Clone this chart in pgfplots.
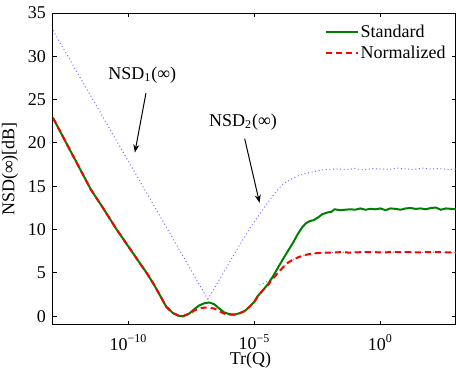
\documentclass[border=0pt]{standalone}
\usepackage{fontspec}
\setmainfont{Liberation Serif}
\usepackage{pgfplots}
\pgfplotsset{compat=1.18}
\usetikzlibrary{arrows.meta}
\definecolor{mgreen}{rgb}{0,0.5,0}
\definecolor{mblue}{rgb}{0.45,0.45,1}
\begin{document}
\begin{tikzpicture}
\begin{axis}[
  name=ax,
  scale only axis,
  width=201.5pt, height=156pt,
  xmode=log, log basis x=10,
  xmin=1e-13, xmax=1e3,
  ymin=-1, ymax=35,
  xtick={1e-10,1e-5,1},
  xticklabels={10\textsuperscript{−10},10\textsuperscript{−5},10\textsuperscript{0}},
  ytick={0,5,...,35},
  xminorticks=false, yminorticks=false,
  tick align=inside,
  major tick length=2pt,
  axis line style={line width=0.5pt},
  every tick/.style={black,line width=0.5pt},
  /pgf/number format/assume math mode=true,
  tick label style={font=\fontsize{9}{11}\selectfont},
  xticklabel style={inner sep=0pt, yshift=-4.5pt},
  label style={font=\fontsize{9}{11}\selectfont},
  xlabel={Tr(Q)},
  ylabel={NSD(∞)[dB]},
  xlabel style={at={(axis description cs:0.5,0)}, anchor=north, yshift=-13.2pt, xshift=-2pt, inner sep=0pt},
  ylabel style={yshift=-2pt},
  legend style={draw=none, fill=none, at={(1,1)}, anchor=north east, xshift=-4pt, yshift=-4.5pt,
    font=\fontsize{9}{10}\selectfont, row sep=0.5pt, inner sep=0pt,
    nodes={inner sep=1pt, text height=6.5pt, text depth=1.5pt}},
  legend cell align=left,
  legend image code/.code={\draw[#1] (0pt,0pt) -- (16pt,0pt);},
]
% NSD1 dotted
\addplot[mblue, line width=0.5pt, dash pattern=on 0.5pt off 1.3pt, forget plot] coordinates {
(1e-13,33.0) (1.413e-7,1.95)
};
% NSD2 dotted
\addplot[mblue, line width=0.5pt, dash pattern=on 0.5pt off 1.3pt, forget plot] coordinates {
(1.413e-7,1.95) (5.01e-7,4.7) (1.82e-6,7.5) (6.31e-6,10.1) (2.24e-5,12.4) (6.31e-5,14.2)
(1.38e-4,15.3) (3.16e-4,15.9) (6.31e-4,16.3) (1.585e-3,16.6) (5.01e-3,16.9) (1.82e-2,17.0)
(5e-2,16.95) (1e-1,17.05) (2e-1,16.9) (5e-1,17.05) (1,17.0) (2,16.95) (5,17.1) (10,17.0)
(20,16.95) (50,17.1) (100,17.0) (200,17.05) (500,16.95) (1000,17.0)
};
% blue dotted under normalized
\addplot[mblue, line width=0.5pt, dash pattern=on 0.5pt off 1.3pt, forget plot] coordinates {
(1.58e-5,3.6) (5.37e-5,4.35) (8.51e-5,5.0) (1.35e-4,5.65) (2.14e-4,6.2) (3.39e-4,6.55)
(5.25e-4,6.8) (8.32e-4,7.0) (1.32e-3,7.15) (3.16e-3,7.3) (8.13e-3,7.35) (1e-1,7.4) (1,7.4) (10,7.4) (1000,7.35)
};
% Standard
\addplot[mgreen, line width=1pt] coordinates {
(1e-13,22.9) (3.16e-13,20.15) (1e-12,17.4) (3.16e-12,14.65) (1e-11,12.44) (3.16e-11,10.14)
(1e-10,8.03) (3.16e-10,5.92) (5.25e-10,5.0) (1e-9,3.7) (1.78e-9,2.4) (3.16e-9,1.1)
(5.62e-9,0.4) (1e-8,0.05) (1.41e-8,0.0) (2.51e-8,0.3) (3.98e-8,0.8) (6.31e-8,1.25)
(1e-7,1.5) (1.585e-7,1.6) (2.51e-7,1.4) (3.98e-7,0.9) (6.31e-7,0.45) (1e-6,0.25)
(1.585e-6,0.2) (2.51e-6,0.35) (4.07e-6,0.6) (6.31e-6,1.1) (1e-5,1.7) (1.35e-5,2.35)
(2.14e-5,3.0) (3.39e-5,3.7) (5.37e-5,4.6) (8.51e-5,5.6) (1.35e-4,6.6) (2.14e-4,7.55)
(3.39e-4,8.5) (5.25e-4,9.5) (7.94e-4,10.3) (1.12e-3,10.75) (1.585e-3,11.0) (2.24e-3,11.1)
(3.31e-3,11.4) (5.01e-3,11.8) (8.13e-3,12.0) (1.12e-2,12.05) (1.51e-2,12.35)
(2.51e-2,12.25) (3.98e-2,12.3) (6.31e-2,12.35) (1e-1,12.3) (1.585e-1,12.45) (2.51e-1,12.3)
(3.98e-1,12.4) (6.31e-1,12.35) (1,12.45) (1.585,12.25) (2.51,12.45) (3.98,12.4)
(6.31,12.3) (10,12.45) (15.85,12.5) (25.1,12.4) (39.8,12.45) (63.1,12.35) (100,12.5)
(158.5,12.55) (251,12.3) (398,12.45) (631,12.4) (1000,12.35)
};
\addlegendentry{Standard}
% Normalized
\addplot[red, line width=1pt, dash pattern=on 3pt off 2pt] coordinates {
(1e-13,22.9) (3.16e-13,20.15) (1e-12,17.4) (3.16e-12,14.65) (1e-11,12.44) (3.16e-11,10.14)
(1e-10,8.03) (3.16e-10,5.92) (5.25e-10,5.0) (1e-9,3.7) (1.78e-9,2.4) (3.16e-9,1.1)
(5.62e-9,0.4) (1e-8,0.05) (1.41e-8,0.0) (2.51e-8,0.3) (3.98e-8,0.65) (6.31e-8,0.9)
(1e-7,1.0) (1.585e-7,1.0) (2.51e-7,0.9) (3.98e-7,0.6) (6.31e-7,0.3) (1e-6,0.2)
(1.585e-6,0.2) (2.51e-6,0.35) (4.07e-6,0.6) (6.31e-6,1.1) (1e-5,1.7) (1.35e-5,2.3)
(2.14e-5,3.0) (3.39e-5,3.6) (5.37e-5,4.35) (8.51e-5,5.0) (1.35e-4,5.65) (2.14e-4,6.2)
(3.39e-4,6.55) (5.25e-4,6.8) (8.32e-4,7.0) (1.32e-3,7.15) (3.16e-3,7.3) (8.13e-3,7.35)
(2.51e-2,7.4) (6.31e-2,7.35) (1.585e-1,7.4) (3.98e-1,7.42) (1,7.38) (2.51,7.4)
(6.31,7.42) (15.85,7.4) (39.8,7.38) (100,7.42) (251,7.4) (631,7.38) (1000,7.35)
};
\addlegendentry{Normalized}
% annotations
\node[font=\fontsize{9}{11}\selectfont] at (axis cs:3.5e-10,27.8) {NSD\textsubscript{1}(∞)};
\draw[-{Stealth[length=4pt,width=3pt]}, line width=0.5pt] (axis cs:4.9e-10,25.75) -- (axis cs:1.78e-10,18.9);
\node[font=\fontsize{9}{11}\selectfont] at (axis cs:3.5e-6,22.4) {NSD\textsubscript{2}(∞)};
\draw[-{Stealth[length=4pt,width=3pt]}, line width=0.5pt] (axis cs:4.07e-6,20.5) -- (axis cs:1.585e-5,13.1);
\end{axis}
\pgfresetboundingbox
\path ([xshift=-26.5pt,yshift=-21.5pt]ax.south west) rectangle ([yshift=6.5pt]ax.north east);
\end{tikzpicture}
\end{document}
